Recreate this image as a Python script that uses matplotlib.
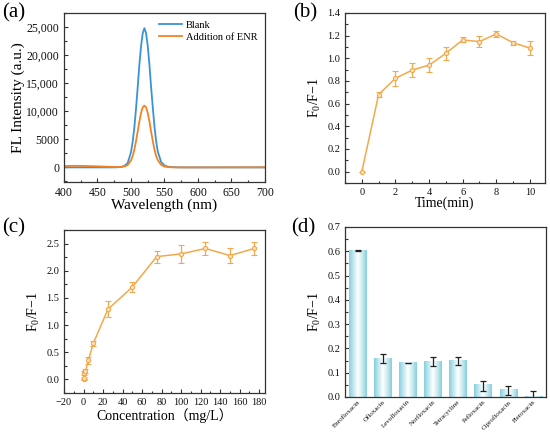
import numpy as np
import matplotlib
matplotlib.use("Agg")
import matplotlib.pyplot as plt
from matplotlib.ticker import MultipleLocator, FuncFormatter
from matplotlib.colors import LinearSegmentedColormap

plt.rcParams['font.family'] = ['Liberation Serif', 'Noto Sans CJK SC']
plt.rcParams['mathtext.fontset'] = 'custom'
plt.rcParams['mathtext.rm'] = 'Liberation Serif'
plt.rcParams['mathtext.it'] = 'Liberation Serif:italic'

# ---------------- data ----------------
# (a) spectra
wl_blank = [400, 440, 470, 480, 485, 490, 495, 500, 502.5, 505, 507.5, 510, 512.5, 515, 517.5,
            520, 522.5, 525, 527.5, 530, 532.5, 535, 537.5, 540, 545, 550, 555, 560, 570, 580, 600, 700]
fl_blank = [0, 0, 0, 20, 80, 250, 780, 2700, 4600, 7100, 10500, 14300, 18300, 21600, 23900,
            24800, 23900, 21600, 18300, 14300, 10700, 7300, 4700, 2800, 950, 330, 130, 50, 10, 0, 0, 0]
wl_enr = [400, 420, 440, 460, 475, 480, 485, 490, 495, 500, 502.5, 505, 507.5, 510, 512.5, 515, 517.5,
          520, 522.5, 525, 527.5, 530, 532.5, 535, 537.5, 540, 545, 550, 555, 560, 580, 600, 700]
fl_enr = [250, 280, 230, 150, 80, 60, 80, 160, 420, 1250, 2000, 3150, 4700, 6400, 8200, 9700, 10700,
          11000, 10700, 9700, 8200, 6400, 4700, 3200, 2050, 1300, 450, 160, 60, 20, 0, 0, 20]

# (b) time
time_min = [0, 1, 2, 3, 4, 5, 6, 7, 8, 9, 10]
ratio_time = [0.0, 0.68, 0.824, 0.896, 0.94, 1.044, 1.162, 1.148, 1.215, 1.138, 1.09]
err_time = [0.0, 0.025, 0.068, 0.065, 0.06, 0.06, 0.022, 0.05, 0.025, 0.016, 0.063]

# (c) concentration
conc = [0, 0.5, 1, 2, 5, 10, 25, 50, 75, 100, 125, 150, 175]
ratio_conc = [0.0, 0.03, 0.12, 0.15, 0.35, 0.663, 1.29, 1.70, 2.26, 2.31, 2.41, 2.28, 2.41]
err_conc = [0.01, 0.02, 0.04, 0.04, 0.06, 0.05, 0.145, 0.10, 0.11, 0.165, 0.125, 0.145, 0.115]

# (d) selectivity
drugs = ['Enrofloxacin', 'Ofloxacin', 'Levofloxacin', 'Norfloxacin', 'Tetracycline',
         'Pefloxacin', 'Ciprofloxacin', 'Fleroxacin']
ratio_drug = [0.603, 0.157, 0.140, 0.147, 0.149, 0.052, 0.030, 0.004]
err_drug = [0.003, 0.019, 0.002, 0.02, 0.017, 0.021, 0.019, 0.02]
err_center = [0.603, 0.158, 0.140, 0.146, 0.148, 0.046, 0.026, 0.004]

# ---------------- figure ----------------
fig = plt.figure(figsize=(5.5, 4.32), dpi=100)
W, H = 550, 432

def add_ax(l, r, t, b):
    return fig.add_axes([l / W, 1 - b / H, (r - l) / W, (b - t) / H])

axa = add_ax(64, 265, 13, 182)
axb = add_ax(345, 545, 13, 183)
axc = add_ax(64, 265, 230, 393)
axd = add_ax(345, 546, 227, 397)

spine_col = '#333333'
for ax in (axa, axb, axc, axd):
    for s in ax.spines.values():
        s.set_color(spine_col)
        s.set_linewidth(0.9)
    ax.tick_params(which='both', direction='in', colors=spine_col, labelcolor='#111111', width=0.8)
    ax.tick_params(which='major', length=3)
    ax.tick_params(which='minor', length=1.8)
    ax.tick_params(top=False, right=False)

# (a)
blue = '#3A93D8'
orange = '#F58220'
axa.plot(wl_blank, fl_blank, color=blue, lw=1.3, label='Blank')
axa.plot(wl_enr, fl_enr, color=orange, lw=1.3, label='Addition of ENR')
axa.set_xlim(400, 700)
axa.set_ylim(-2600, 27500)
axa.xaxis.set_major_locator(MultipleLocator(50))
axa.xaxis.set_minor_locator(MultipleLocator(25))
axa.yaxis.set_major_locator(MultipleLocator(5000))
axa.yaxis.set_minor_locator(MultipleLocator(2500))
axa.yaxis.set_major_formatter(FuncFormatter(lambda v, p: f'{int(v):,}' if abs(v) >= 10000 else f'{int(v)}'))
axa.tick_params(labelsize=8.5)
axa.set_xlabel('Wavelength (nm)', fontsize=11, labelpad=0)
axa.set_ylabel('FL Intensity (a.u.)', fontsize=11, labelpad=1)
axa.legend(loc='upper right', frameon=False, fontsize=7.5, handlelength=2.2, handletextpad=0.4,
           borderaxespad=0.3, labelspacing=0.3)

# (b)
lo = '#F5A84A'
axb.errorbar(time_min, ratio_time, yerr=err_time, color=lo, lw=1.1, marker='o', ms=3,
             mfc='#FBE3C4', mec=lo, mew=0.8, capsize=2, elinewidth=0.9, capthick=0.9)
axb.set_xlim(-1, 10.9)
axb.set_ylim(-0.1, 1.4)
axb.xaxis.set_major_locator(MultipleLocator(2))
axb.xaxis.set_minor_locator(MultipleLocator(1))
axb.yaxis.set_major_locator(MultipleLocator(0.2))
axb.yaxis.set_minor_locator(MultipleLocator(0.1))
axb.yaxis.set_major_formatter(FuncFormatter(lambda v, p: f'{v:.1f}'))
axb.tick_params(labelsize=7.5)
axb.set_xlabel('Time(min)', fontsize=10, labelpad=0)
axb.set_ylabel(r'F$_{\it 0}$/F−1', fontsize=10, labelpad=3)

# (c)
axc.errorbar(conc, ratio_conc, yerr=err_conc, color=lo, lw=1.1, marker='o', ms=3,
             mfc='#FBE3C4', mec=lo, mew=0.8, capsize=2, elinewidth=0.9, capthick=0.9)
axc.set_xlim(-20, 186)
axc.set_ylim(-0.25, 2.75)
axc.xaxis.set_major_locator(MultipleLocator(20))
axc.xaxis.set_minor_locator(MultipleLocator(10))
axc.yaxis.set_major_locator(MultipleLocator(0.5))
axc.yaxis.set_minor_locator(MultipleLocator(0.25))
axc.yaxis.set_major_formatter(FuncFormatter(lambda v, p: f'{v:.1f}'))
axc.tick_params(labelsize=7.5)
axc.set_xlabel('Concentration（mg/L）', fontsize=10, labelpad=1)
axc.set_ylabel(r'F$_{\it 0}$/F−1', fontsize=10, labelpad=3)

# (d)
cmap = LinearSegmentedColormap.from_list('bar', ['#86CFDE', '#C4E8EF', '#FFFFFF', '#C9EAF1', '#86CFDE'])
grad = np.linspace(0, 1, 64).reshape(1, -1)
bw = 0.7
xpos = np.arange(len(drugs))
for x, v in zip(xpos, ratio_drug):
    axd.imshow(grad, cmap=cmap, aspect='auto', extent=(x - bw / 2, x + bw / 2, 0, v),
               interpolation='bilinear', zorder=2)
axd.errorbar(xpos, err_center, yerr=err_drug, fmt='none', ecolor='#222222', elinewidth=0.9,
             capsize=2, capthick=0.9, zorder=3)
axd.set_xlim(-0.5, 7.5)
axd.set_ylim(0, 0.7)
axd.set_aspect('auto')
axd.set_xticks(xpos)
axd.set_xticklabels(drugs, rotation=45, ha='right', rotation_mode='anchor', fontsize=5)
axd.yaxis.set_major_locator(MultipleLocator(0.1))
axd.yaxis.set_minor_locator(MultipleLocator(0.05))
axd.yaxis.set_major_formatter(FuncFormatter(lambda v, p: f'{v:.1f}'))
axd.tick_params(axis='y', labelsize=7.5)
axd.tick_params(axis='x', length=2, pad=1.5)
axd.set_ylabel(r'F$_{\it 0}$/F−1', fontsize=10, labelpad=3)

# panel labels
for lab, x, y in [('(a)', 2, 3), ('(b)', 293, 3), ('(c)', 2, 218), ('(d)', 291, 218)]:
    fig.text(x / W, 1 - y / H, lab, fontsize=15, va='top', ha='left')

fig.savefig('out.png', dpi=100)
